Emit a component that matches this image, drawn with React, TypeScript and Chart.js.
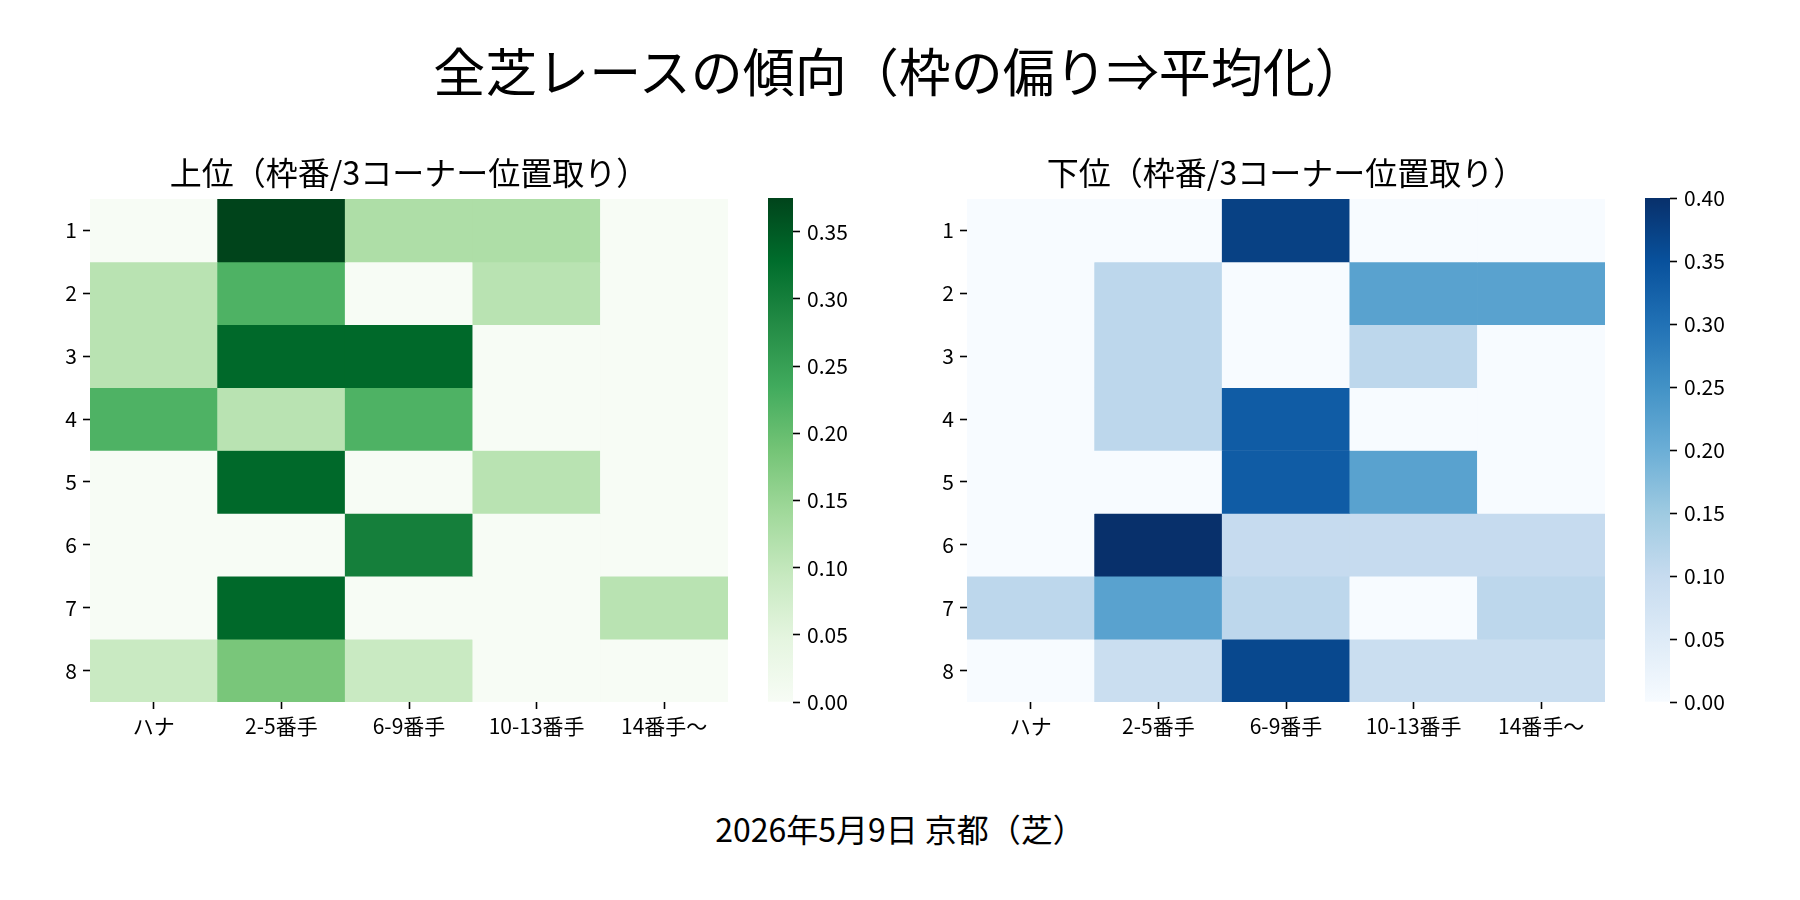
import { useEffect, useRef } from "react";
import { Chart, registerables } from "chart.js";

Chart.register(...registerables);

const FONT = "'Noto Sans CJK JP', 'Noto Sans', sans-serif";

Chart.defaults.font.family = FONT;
Chart.defaults.color = "#000";

const positions = ["ハナ", "2-5番手", "6-9番手", "10-13番手", "14番手〜"];
const frames = ["1", "2", "3", "4", "5", "6", "7", "8"];

// 上位: share per frame (rows) and 3rd-corner position (cols)
const topRates = [
  [0, 0.375, 0.125, 0.125, 0],
  [0.111, 0.222, 0, 0.111, 0],
  [0.111, 0.333, 0.333, 0, 0],
  [0.222, 0.111, 0.222, 0, 0],
  [0, 0.333, 0, 0.111, 0],
  [0, 0, 0.3, 0, 0],
  [0, 0.333, 0, 0, 0.111],
  [0.091, 0.182, 0.091, 0, 0],
];

// 下位
const bottomRates = [
  [0, 0, 0.375, 0, 0],
  [0, 0.111, 0, 0.222, 0.222],
  [0, 0.111, 0, 0.111, 0],
  [0, 0.111, 0.333, 0, 0],
  [0, 0, 0.333, 0.222, 0],
  [0, 0.4, 0.1, 0.1, 0.1],
  [0.111, 0.222, 0.111, 0, 0.111],
  [0, 0.091, 0.364, 0.091, 0.091],
];

const topMax = 0.375;
const bottomMax = 0.4;
const topTicks = [0, 0.05, 0.1, 0.15, 0.2, 0.25, 0.3, 0.35];
const bottomTicks = [0, 0.05, 0.1, 0.15, 0.2, 0.25, 0.3, 0.35, 0.4];

const greens = ["#f7fcf5", "#e5f5e0", "#c7e9c0", "#a1d99b", "#74c476", "#41ab5d", "#238b45", "#006d2c", "#00441b"];
const blues = ["#f7fbff", "#deebf7", "#c6dbef", "#9ecae1", "#6baed6", "#4292c6", "#2171b5", "#08519c", "#08306b"];

function hexToRgb(h: string) {
  return [1, 3, 5].map((i) => parseInt(h.slice(i, i + 2), 16));
}

function colorAt(palette: string[], t: number) {
  const x = Math.min(1, Math.max(0, t)) * (palette.length - 1);
  const i = Math.min(palette.length - 2, Math.floor(x));
  const f = x - i;
  const a = hexToRgb(palette[i]);
  const b = hexToRgb(palette[i + 1]);
  const c = a.map((v, k) => Math.round(v + (b[k] - v) * f));
  return `rgb(${c[0]}, ${c[1]}, ${c[2]})`;
}

const tickGrid = {
  drawOnChartArea: false,
  tickLength: 7,
  tickWidth: 1.6,
  tickColor: "#000",
};

function Heatmap({ title, rates, palette, vmax }: { title: string; rates: number[][]; palette: string[]; vmax: number }) {
  const ref = useRef<HTMLCanvasElement>(null);

  useEffect(() => {
    if (!ref.current) return;
    const chart = new Chart(ref.current, {
      type: "bar",
      data: {
        labels: positions,
        datasets: frames.map((f, r) => ({
          label: f,
          data: positions.map(() => [r + 0.5, r + 1.5] as [number, number]),
          backgroundColor: rates[r].map((v) => colorAt(palette, v / vmax)),
          borderWidth: 0,
          barPercentage: 1,
          categoryPercentage: 1,
          grouped: false,
        })),
      },
      options: {
        animation: false,
        responsive: true,
        maintainAspectRatio: false,
        layout: { padding: { right: 12 } },
        plugins: {
          legend: { display: false },
          tooltip: { enabled: false },
          title: {
            display: true,
            text: title,
            fullSize: false,
            color: "#000",
            font: { size: 32, weight: "normal" },
            padding: { top: 14, bottom: 6.6 },
          },
        },
        scales: {
          x: {
            type: "category",
            grid: { ...tickGrid, offset: false },
            border: { display: false },
            ticks: { font: { size: 21 }, color: "#000", padding: 4, maxRotation: 0, autoSkip: false },
            afterFit: (s: any) => {
              s.height = 60;
            },
          },
          y: {
            type: "linear",
            reverse: true,
            min: 0.5,
            max: 8.5,
            grid: tickGrid,
            border: { display: false },
            ticks: {
              font: { size: 21 },
              color: "#000",
              padding: 6,
              callback: (v: any) => frames[Math.round(Number(v)) - 1],
            },
            afterBuildTicks: (s: any) => {
              s.ticks = frames.map((_, i) => ({ value: i + 1 }));
            },
            afterFit: (s: any) => {
              s.width = 90;
            },
          },
        },
      },
    });
    return () => chart.destroy();
  }, [title, rates, palette, vmax]);

  return <canvas ref={ref} />;
}

function ColorBar({ palette, vmax, ticks }: { palette: string[]; vmax: number; ticks: number[] }) {
  const ref = useRef<HTMLCanvasElement>(null);

  useEffect(() => {
    if (!ref.current) return;
    const chart = new Chart(ref.current, {
      type: "bar",
      data: {
        labels: [""],
        datasets: [
          {
            data: [[0, vmax] as [number, number]],
            backgroundColor: (ctx: any) => {
              const area = ctx.chart.chartArea;
              if (!area) return palette[0];
              const g = ctx.chart.ctx.createLinearGradient(0, area.bottom, 0, area.top);
              palette.forEach((c, i) => g.addColorStop(i / (palette.length - 1), c));
              return g;
            },
            borderWidth: 0,
            barPercentage: 1,
            categoryPercentage: 1,
          },
        ],
      },
      options: {
        animation: false,
        responsive: true,
        maintainAspectRatio: false,
        layout: { padding: { top: 20, bottom: 20 } },
        plugins: {
          legend: { display: false },
          tooltip: { enabled: false },
        },
        scales: {
          x: { display: false },
          y: {
            position: "right",
            min: 0,
            max: vmax,
            grid: tickGrid,
            border: { display: false },
            ticks: {
              font: { size: 21 },
              color: "#000",
              padding: 7,
              callback: (v: any) => Number(v).toFixed(2),
            },
            afterBuildTicks: (s: any) => {
              s.ticks = ticks.map((v) => ({ value: v }));
            },
            afterFit: (s: any) => {
              s.width = 80;
            },
          },
        },
      },
    });
    return () => chart.destroy();
  }, [palette, vmax, ticks]);

  return <canvas ref={ref} />;
}

function Box({ left, top, width, height, children }: any) {
  return <div style={{ position: "absolute", left, top, width, height }}>{children}</div>;
}

export default function App() {
  useEffect(() => {
    document.body.style.margin = "0";
  }, []);

  return (
    <div
      style={{
        position: "absolute",
        left: 0,
        top: 0,
        width: 1800,
        height: 900,
        background: "#fff",
        fontFamily: FONT,
        color: "#000",
      }}
    >
      <div style={{ position: "absolute", left: 0, top: 40, width: 1800, textAlign: "center", fontSize: 52, lineHeight: "60px" }}>
        全芝レースの傾向（枠の偏り⇒平均化）
      </div>

      <Box left={0} top={140} width={740} height={622}>
        <Heatmap title="上位（枠番/3コーナー位置取り）" rates={topRates} palette={greens} vmax={topMax} />
      </Box>
      <Box left={768} top={178} width={105} height={544}>
        <ColorBar palette={greens} vmax={topMax} ticks={topTicks} />
      </Box>

      <Box left={877} top={140} width={740} height={622}>
        <Heatmap title="下位（枠番/3コーナー位置取り）" rates={bottomRates} palette={blues} vmax={bottomMax} />
      </Box>
      <Box left={1645} top={178} width={105} height={544}>
        <ColorBar palette={blues} vmax={bottomMax} ticks={bottomTicks} />
      </Box>

      <div style={{ position: "absolute", left: 0, top: 808, width: 1800, textAlign: "center", fontSize: 32, lineHeight: "40px" }}>
        2026年5月9日 京都（芝）
      </div>
    </div>
  );
}
